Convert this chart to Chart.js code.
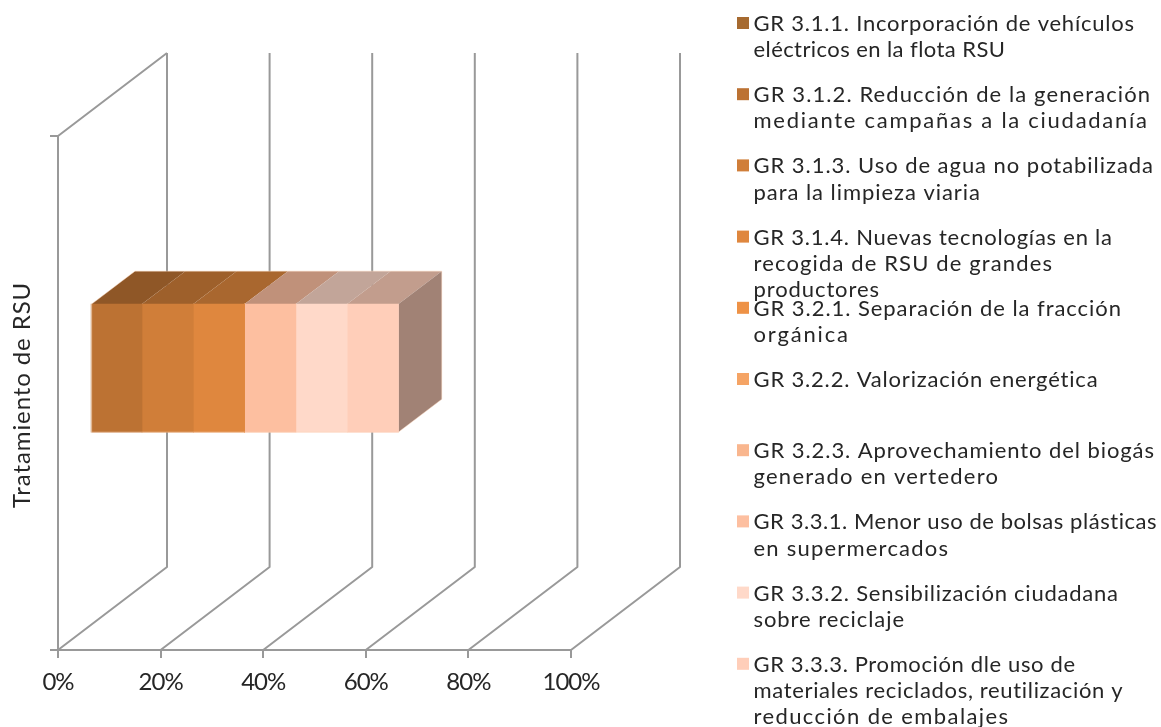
<!DOCTYPE html>
<html lang="es">
<head>
<meta charset="utf-8">
<style>html,body{margin:0;padding:0;background:#fff}canvas{display:block}</style>
<script src="https://cdn.jsdelivr.net/npm/chart.js@4"></script>
</head>
<body>
<canvas id="c" width="1161" height="727"></canvas>
<script>
const categories = ["Tratamiento de RSU"];
const seriesLabels = [
  ["GR 3.1.1. Incorporación de vehículos", "eléctricos en la flota RSU"],
  ["GR 3.1.2. Reducción de la generación", "mediante campañas a la ciudadanía"],
  ["GR 3.1.3. Uso de agua no potabilizada", "para la limpieza viaria"],
  ["GR 3.1.4. Nuevas tecnologías en la", "recogida de RSU de grandes", "productores"],
  ["GR 3.2.1. Separación de la fracción", "orgánica"],
  ["GR 3.2.2. Valorización energética"],
  ["GR 3.2.3. Aprovechamiento del biogás", "generado en vertedero"],
  ["GR 3.3.1. Menor uso de bolsas plásticas", "en supermercados"],
  ["GR 3.3.2. Sensibilización ciudadana", "sobre reciclaje"],
  ["GR 3.3.3. Promoción dle uso de", "materiales reciclados, reutilización y", "reducción de embalajes"]
];
const seriesValues = [0, 10, 10, 10, 0, 0, 0, 10, 10, 10];
const seriesColors = ["#A66A30","#BC7233","#D07E39","#DF873E","#EE9246","#F5A465","#F9B68E","#FDBFA0","#FFD9C9","#FFCEB9"];
const xTickMax = 100, xTickStep = 20;
// right end of every legend line, so the stand-in font keeps the original line lengths
const legendLineEnds = [
  [1134, 1005], [1150, 1147], [1153, 980], [1112, 1052, 879], [1121, 848],
  [1098], [1154, 998], [1157, 948], [1118, 904], [1075, 1123, 1008]
];

const FONT = "Lato, sans-serif";
const GRID = "#999999", TEXT = "#262626", EDGE = "rgba(250,210,185,0.45)";
const LINE = 2;
const DEPTH_X = 109, DEPTH_Y = 83, GAP = 0.3, BAR_DEPTH = 0.397;
const LEGEND = {swatchX: 737, swatch: 12, textX: 753.5, firstBaseline: 31, pitch: 71.2, line: 26.2, size: 22};

function shade(hex, f) {
  const n = parseInt(hex.slice(1), 16);
  return "rgb(" + [n >> 16, (n >> 8) & 255, n & 255].map(v => Math.round(v * f)).join(",") + ")";
}

function barBox(chart) {
  const ox = DEPTH_X * GAP, oy = -DEPTH_Y * GAP;
  let box = null;
  chart.data.datasets.forEach((ds, i) => {
    if (!ds.data[0]) return;
    const p = chart.getDatasetMeta(i).data[0].getProps(["x", "y", "base", "height"], true);
    const seg = {i, x0: p.base + ox, x1: p.x + ox, top: p.y - p.height / 2 + oy, h: p.height};
    box = box || {first: seg, segs: []};
    box.segs.push(seg);
    box.last = seg;
  });
  return box;
}

const depthPlugin = {
  id: "depth",
  beforeDatasetsDraw(chart) {
    const {ctx, chartArea: a, scales: {x}} = chart;
    ctx.save();
    ctx.strokeStyle = GRID; ctx.lineWidth = LINE; ctx.lineJoin = "round";
    ctx.beginPath();
    ctx.moveTo(a.left, a.top); ctx.lineTo(a.left + DEPTH_X, a.top - DEPTH_Y);
    x.ticks.forEach(t => {
      const px = x.getPixelForValue(t.value);
      ctx.moveTo(px, a.bottom);
      ctx.lineTo(px + DEPTH_X, a.bottom - DEPTH_Y);
      ctx.lineTo(px + DEPTH_X, a.top - DEPTH_Y);
    });
    ctx.stroke();
    const bx = DEPTH_X * BAR_DEPTH, by = -DEPTH_Y * BAR_DEPTH;
    const box = barBox(chart);
    box.segs.forEach(s => {
      ctx.fillStyle = shade(seriesColors[s.i], 0.76);
      ctx.beginPath();
      ctx.moveTo(s.x0, s.top); ctx.lineTo(s.x1, s.top); ctx.lineTo(s.x1 + bx, s.top + by); ctx.lineTo(s.x0 + bx, s.top + by);
      ctx.closePath(); ctx.fill();
    });
    const l = box.last;
    ctx.fillStyle = shade(seriesColors[l.i], 0.63);
    ctx.beginPath();
    ctx.moveTo(l.x1, l.top); ctx.lineTo(l.x1 + bx, l.top + by);
    ctx.lineTo(l.x1 + bx, l.top + by + l.h); ctx.lineTo(l.x1, l.top + l.h);
    ctx.closePath(); ctx.fill();
    ctx.restore();
  },
  beforeDatasetDraw(chart) {
    chart.ctx.save();
    chart.ctx.translate(DEPTH_X * GAP, -DEPTH_Y * GAP);
  },
  afterDatasetDraw(chart) { chart.ctx.restore(); },
  afterDatasetsDraw(chart) {
    const {ctx} = chart;
    const bx = DEPTH_X * BAR_DEPTH, by = -DEPTH_Y * BAR_DEPTH;
    const box = barBox(chart), f = box.first, l = box.last;
    ctx.save();
    ctx.strokeStyle = EDGE; ctx.lineWidth = 1;
    ctx.beginPath();
    ctx.moveTo(f.x0, f.top + f.h); ctx.lineTo(f.x0, f.top);
    ctx.lineTo(f.x0 + bx, f.top + by); ctx.lineTo(l.x1 + bx, l.top + by);
    ctx.lineTo(l.x1 + bx, l.top + by + l.h); ctx.lineTo(l.x1, l.top + l.h);
    ctx.closePath();
    ctx.stroke();
    ctx.restore();
  }
};

const legendPlugin = {
  id: "sideLegend",
  afterDraw(chart) {
    const {ctx} = chart;
    ctx.save();
    ctx.font = LEGEND.size + "px " + FONT;
    ctx.textBaseline = "alphabetic"; ctx.textAlign = "left";
    seriesLabels.forEach((lines, i) => {
      const base = LEGEND.firstBaseline + i * LEGEND.pitch;
      ctx.fillStyle = seriesColors[i];
      ctx.fillRect(LEGEND.swatchX, base - 14, LEGEND.swatch, LEGEND.swatch);
      ctx.fillStyle = TEXT;
      lines.forEach((s, j) => {
        ctx.letterSpacing = "0px";
        const w = ctx.measureText(s).width;
        ctx.letterSpacing = ((legendLineEnds[i][j] - LEGEND.textX - w) / (s.length - 1)) + "px";
        ctx.fillText(s, LEGEND.textX, base + j * LEGEND.line);
      });
    });
    ctx.restore();
  }
};

function spaced(scale, method, px, shift) {
  if (scale["_wrapped" + method]) return;
  scale["_wrapped" + method] = true;
  const original = scale[method];
  scale[method] = function (...args) {
    const c = this.ctx;
    c.save();
    c.letterSpacing = px + "px";
    c.translate(0, shift);
    original.apply(this, args);
    c.restore();
  };
}

new Chart(document.getElementById("c"), {
  type: "bar",
  data: {
    labels: categories,
    datasets: seriesLabels.map((lines, i) => ({
      label: lines.join(" "),
      data: [seriesValues[i]],
      backgroundColor: seriesColors[i],
      borderWidth: 0,
      barThickness: 128
    }))
  },
  options: {
    indexAxis: "y",
    responsive: false,
    animation: false,
    layout: {padding: {top: 136, right: 590, left: 0, bottom: 0}},
    plugins: {legend: {display: false}, tooltip: {enabled: false}},
    scales: {
      x: {
        stacked: true, min: 0, max: xTickMax,
        afterFit(s) { s.height = 77; },
        afterUpdate(s) { spaced(s, "drawLabels", -1, 0); },
        ticks: {stepSize: xTickStep, callback: v => v + "%", color: TEXT, font: {family: FONT, size: 24}, padding: 9.5, maxRotation: 0},
        grid: {drawOnChartArea: false, drawTicks: true, tickLength: 8, color: GRID, lineWidth: LINE},
        border: {display: true, color: GRID, width: LINE}
      },
      y: {
        stacked: true,
        afterFit(s) { s.width = 58; },
        afterUpdate(s) { spaced(s, "drawTitle", 0.9, 2); },
        ticks: {display: false},
        title: {display: true, text: categories[0], color: TEXT, font: {family: FONT, size: 24}, padding: {top: 7.5, bottom: 0}},
        grid: {drawOnChartArea: false, drawTicks: true, tickLength: 8, offset: true, color: GRID, lineWidth: LINE},
        border: {display: true, color: GRID, width: LINE}
      }
    }
  },
  plugins: [depthPlugin, legendPlugin]
});
</script>
</body>
</html>
